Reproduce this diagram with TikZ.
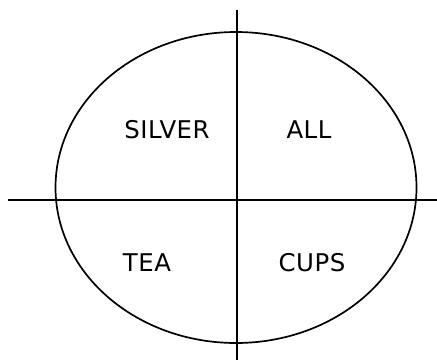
\documentclass[tikz,border=0pt]{standalone}
\usepackage{fontspec}
\setmainfont{DejaVu Sans}
\newcommand*{\xleft}{8}
\newcommand*{\xright}{437}
\newcommand*{\ytop}{10}
\newcommand*{\ybottom}{360}
\begin{document}
\begin{tikzpicture}
[
	x=1bp, y=-1bp,
	line/.style={line width=1.7bp},
	word/.style={font=\fontsize{24.5}{28}\selectfont\addfontfeature{LetterSpace=2}, inner sep=0pt, anchor=base}
]

	\useasboundingbox (0,0) rectangle (437,360);

	% ellipse
	\draw[line] (236,187.5) ellipse [x radius=180.5, y radius=155.5];

	% axes
	\draw[line] (\xleft,200) -- (\xright,200);
	\draw[line] (237,\ytop) -- (237,\ybottom);

	% labels
	\node[word] (silver) at (167,138) {SILVER};
	\node[word] (all) at (309,138) {ALL};
	\node[word] (tea) at (147,271) {TEA};
	\node[word] (cups) at (312,271) {CUPS};

\end{tikzpicture}
\end{document}
